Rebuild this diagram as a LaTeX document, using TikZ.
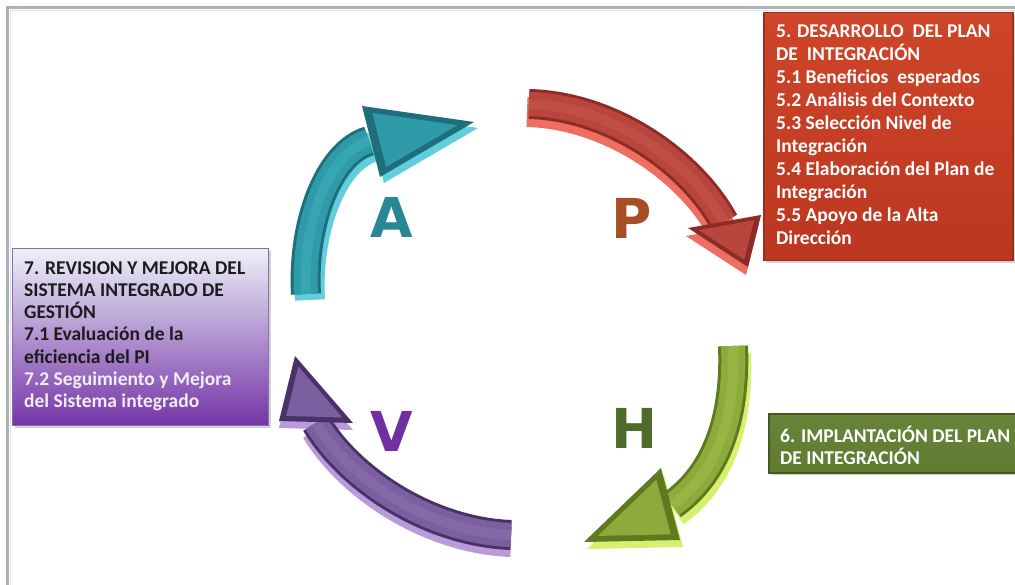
\documentclass[tikz,border=0pt]{standalone}
\usepackage{fontspec}
\setmainfont{Carlito}
\newfontfamily\heavyfont{DejaVu Sans}
\usetikzlibrary{calc,shadows}

\definecolor{framegray}{HTML}{ADB1B6}
\definecolor{framelight}{HTML}{D6E2F2}
\definecolor{redboxtop}{HTML}{CE4529}
\definecolor{redboxbot}{HTML}{BC3620}
\definecolor{redboxedge}{HTML}{9E2D1A}
\definecolor{greenbox}{HTML}{5E7B30}
\definecolor{greenboxtop}{HTML}{68843A}
\definecolor{greenboxedge}{HTML}{44591F}
\definecolor{purptop}{HTML}{EDF1F9}
\definecolor{purpmid}{HTML}{C3AEDC}
\definecolor{purpbot}{HTML}{7434A6}
\definecolor{purpedge}{HTML}{5A2A80}
\definecolor{darktxt}{HTML}{1C1C1C}
\definecolor{lighttxt}{HTML}{F3ECF9}
\definecolor{letA}{HTML}{2A8796}
\definecolor{letP}{HTML}{A64F26}
\definecolor{letH}{HTML}{4E6B2A}
\definecolor{letV}{HTML}{7030A0}
\definecolor{arrdark}{HTML}{1E6F7B}
\definecolor{arrface}{HTML}{2F9AA8}
\definecolor{arrlight}{HTML}{62CEDD}
\definecolor{arrhi}{HTML}{38A5B3}

\newcommand\exx{4}
\newcommand\exy{6}
% #1 prefix, #2 tail, #3 c1, #4 c2, #5 base, #6 head corner 1, #7 tip, #8 head corner 2
\newcommand\pdcaarrow[8]{%
  \coordinate (#1t) at #2;
  \coordinate (#1ca) at #3;
  \coordinate (#1cb) at #4;
  \coordinate (#1b) at #5;
  \coordinate (#1ha) at #6;
  \coordinate (#1tip) at #7;
  \coordinate (#1hb) at #8;
  \draw[line width=30pt, arrlight]
    ([shift={(\exx,\exy)}]#1t) .. controls ([shift={(\exx,\exy)}]#1ca)
    and ([shift={(\exx,\exy)}]#1cb) .. ([shift={(\exx,\exy)}]#1b);
  \fill[arrlight] ([shift={(\exx,\exy)}]#1ha) -- ([shift={(\exx,\exy)}]#1tip)
    -- ([shift={(\exx,\exy)}]#1hb) -- cycle;
  \draw[line width=30pt, arrdark] (#1t) .. controls (#1ca) and (#1cb) .. (#1b);
  \draw[line width=24pt, arrface] (#1t) .. controls (#1ca) and (#1cb) .. (#1b);
  \draw[line width=10pt, arrhi] (#1t) .. controls (#1ca) and (#1cb) .. (#1b);
  \fill[arrdark] (#1ha) -- (#1tip) -- (#1hb) -- cycle;
  \fill[arrface] (barycentric cs:#1ha=0.84,#1tip=0.08,#1hb=0.08)
    -- (barycentric cs:#1ha=0.08,#1tip=0.84,#1hb=0.08)
    -- (barycentric cs:#1ha=0.08,#1tip=0.08,#1hb=0.84) -- cycle;
}

\tikzset{
  boxtxt/.style={anchor=base west, inner sep=0pt, font=\bfseries\fontsize{19.5}{22}\selectfont},
  letter/.style={inner sep=0pt, font=\heavyfont\bfseries\fontsize{55}{55}\selectfont},
}

\begin{document}
\begin{tikzpicture}[x=1pt,y=-1pt]
\useasboundingbox (0,0) rectangle (1015,585);
\fill[white] (0,0) rectangle (1015,585);
% frame
\draw[line width=1pt, framelight] (10.5,585) -- (10.5,10.5) -- (1015,10.5);
\draw[line width=3pt, framegray] (7.5,585) -- (7.5,7.5) -- (1015,7.5);

% ---- arrows ----
% A (teal)
\renewcommand\exx{4}\renewcommand\exy{6}
\pdcaarrow{A}{(306,294)}{(302,225)}{(328,153)}{(369,141)}{(362,106)}{(474,122)}{(380,177)}

% P (red)
\definecolor{arrdark}{HTML}{8E2B27}
\definecolor{arrface}{HTML}{B8453E}
\definecolor{arrlight}{HTML}{EE6E62}
\definecolor{arrhi}{HTML}{BF4E47}
\renewcommand\exx{-2}\renewcommand\exy{8}
\pdcaarrow{P}{(529,104)}{(610,106)}{(690,160)}{(724,222)}{(688,228)}{(748,267)}{(761,215)}

% H (green)
\definecolor{arrdark}{HTML}{5D7A1F}
\definecolor{arrface}{HTML}{8DAA3C}
\definecolor{arrlight}{HTML}{D8F070}
\definecolor{arrhi}{HTML}{97B444}
\renewcommand\exx{3}\renewcommand\exy{7}
\pdcaarrow{H}{(733,346)}{(736,420)}{(715,475)}{(672,505)}{(661,468)}{(584,542)}{(680,540)}

% V (purple)
\definecolor{arrdark}{HTML}{4A3268}
\definecolor{arrface}{HTML}{7C5FA0}
\definecolor{arrlight}{HTML}{B99BD9}
\definecolor{arrhi}{HTML}{8568A8}
\renewcommand\exx{0}\renewcommand\exy{7}
\pdcaarrow{V}{(511,535)}{(430,532)}{(350,480)}{(316,423)}{(279,421)}{(295,356)}{(353,423)}

% ---- letters ----
\node[letter, text=letA] (LA) at (392,217) {A};
\node[letter, text=letP] (LP) at (632,218) {P};
\node[letter, text=letH] (LH) at (635,428) {H};
\node[letter, text=letV] (LV) at (392,431) {V};

% ---- boxes ----
\node[anchor=north west, minimum width=249pt, minimum height=248pt, inner sep=0pt,
      top color=redboxtop, bottom color=redboxbot, draw=redboxedge, line width=1.5pt,
      drop shadow={shadow xshift=2pt, shadow yshift=-2pt, opacity=0.35}] (plan) at (763,12) {};
\foreach \t [count=\i] in {5. DESARROLLO\ \ DEL PLAN, DE\ \ INTEGRACIÓN, 5.1 Beneficios\ \ esperados,
  5.2 Análisis del Contexto, 5.3 Selección Nivel de, Integración, 5.4 Elaboración del Plan de,
  Integración, 5.5 Apoyo de la Alta, Dirección}
  \node[boxtxt, text=white] (r\i) at (776,{38+23*(\i-1)}) {\t};

\node[anchor=north west, minimum width=256pt, minimum height=177pt, inner sep=0pt,
      top color=purptop, middle color=purpmid, bottom color=purpbot, draw=purpedge!70, line width=1.2pt,
      drop shadow={shadow xshift=2pt, shadow yshift=-2pt, opacity=0.35}] (rev) at (12,248) {};
\foreach \t [count=\i] in {7. REVISION Y MEJORA DEL, SISTEMA INTEGRADO DE, GESTIÓN,
  7.1 Evaluación de la, eficiencia del PI}
  \node[boxtxt, text=darktxt] (v\i) at (24,{275+22*(\i-1)}) {\t};
\foreach \t [count=\i] in {7.2 Seguimiento y Mejora, del Sistema integrado}
  \node[boxtxt, text=lighttxt] (w\i) at (24,{385+22*(\i-1)}) {\t};

\node[anchor=north west, minimum width=250pt, minimum height=59pt, inner sep=0pt,
      top color=greenboxtop, bottom color=greenbox, draw=greenboxedge, line width=1.5pt,
      drop shadow={shadow xshift=2pt, shadow yshift=-2pt, opacity=0.35}] (imp) at (768,413) {};
\node[boxtxt, text=white] (g1) at (780,442) {6. IMPLANTACIÓN DEL PLAN};
\node[boxtxt, text=white] (g2) at (780,464) {DE INTEGRACIÓN};
\end{tikzpicture}
\end{document}
